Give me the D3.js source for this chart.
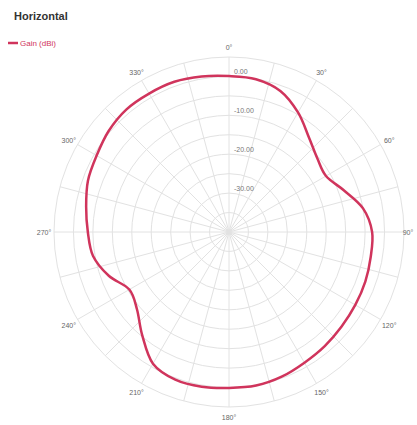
<!DOCTYPE html>
<html lang="en">
<head>
<meta charset="UTF-8">
<title>Horizontal</title>
<script src="https://d3js.org/d3.v7.min.js"></script>
<style>
  body { margin: 0; background: #fff; font-family: "Liberation Sans", Arial, sans-serif; }
</style>
</head>
<body>
<script>
// angle in degrees (clockwise from north) and gain in dBi
var angles = [0,10,20,30,40,50,60,70,80,90,100,110,120,130,140,150,160,170,
              180,190,200,210,220,230,240,250,260,270,280,290,300,310,320,330,340,350];
var gain = [0.1,-0.1,-1.4,-4.5,-8.1,-10.4,-11.2,-8.6,-5.0,-3.2,-3.0,-2.7,-2.5,-2.2,-1.7,-1.2,-0.4,0.1,
            0.1,0.4,0.4,-0.9,-5.3,-9.1,-10.4,-7.1,-4.5,-3.7,-2.7,-1.4,-0.7,0.4,1.1,1.1,1.1,0.6];
var ringValues = [-35,-30,-25,-20,-15,-10,-5,0,5];
var ringLabels = [-30,-20,-10,0];
var angleTicks = [0,30,60,90,120,150,180,210,240,270,300,330];
var spokeAngles = d3.range(0, 360, 15);

var width = 417, height = 425;
var cx = 229, cy = 232, outerR = 175;

var svg = d3.select("body").append("svg").attr("width", width).attr("height", height);

var r = d3.scaleLinear().domain([-40, 5]).range([0, outerR]);
var a = d3.scaleLinear().domain([0, 360]).range([0, 2 * Math.PI]);

svg.append("text").attr("x", 14).attr("y", 20)
  .style("font-size", "11px").style("font-weight", "bold").style("fill", "#333")
  .text("Horizontal");

var leg = svg.append("g").attr("transform", "translate(8,43)");
leg.append("line").attr("x1", 0).attr("x2", 10).attr("y1", 0).attr("y2", 0)
  .style("stroke", "#d0345c").style("stroke-width", 2.5);
leg.append("text").attr("x", 12).attr("y", 3)
  .style("font-size", "8px").style("fill", "#d0345c").text("Gain (dBi)");

var g = svg.append("g").attr("transform", "translate(" + cx + "," + cy + ")");

g.selectAll(".ring").data(ringValues).enter().append("circle")
  .attr("r", function(d) { return r(d); })
  .style("fill", "none").style("stroke", "#e2e2e2").style("stroke-width", 1);

g.selectAll(".spoke").data(spokeAngles).enter().append("line")
  .attr("x1", 0).attr("y1", 0)
  .attr("x2", function(d) { return outerR * Math.sin(a(d)); })
  .attr("y2", function(d) { return -outerR * Math.cos(a(d)); })
  .style("stroke", "#e2e2e2").style("stroke-width", 1);

g.selectAll(".alab").data(angleTicks).enter().append("text")
  .attr("x", function(d) { return Math.min((outerR + 10) * Math.sin(a(d)), width - cx - 9); })
  .attr("y", function(d) { return -(outerR + 10) * Math.cos(a(d)) + 3; })
  .attr("text-anchor", "middle")
  .style("font-size", "7px").style("fill", "#666")
  .text(function(d) { return d + "°"; });

g.selectAll(".rlab").data(ringLabels).enter().append("text")
  .attr("x", 5).attr("y", function(d) { return -r(d) - 2; })
  .style("font-size", "7px").style("fill", "#777")
  .text(function(d) { return d.toFixed(2); });

var line = d3.lineRadial()
  .angle(function(d, i) { return a(angles[i]); })
  .radius(function(d) { return r(d); })
  .curve(d3.curveCardinalClosed);

g.append("path").datum(gain)
  .attr("d", line)
  .style("fill", "none").style("stroke", "#d0345c").style("stroke-width", 2.5);
</script>
</body>
</html>
